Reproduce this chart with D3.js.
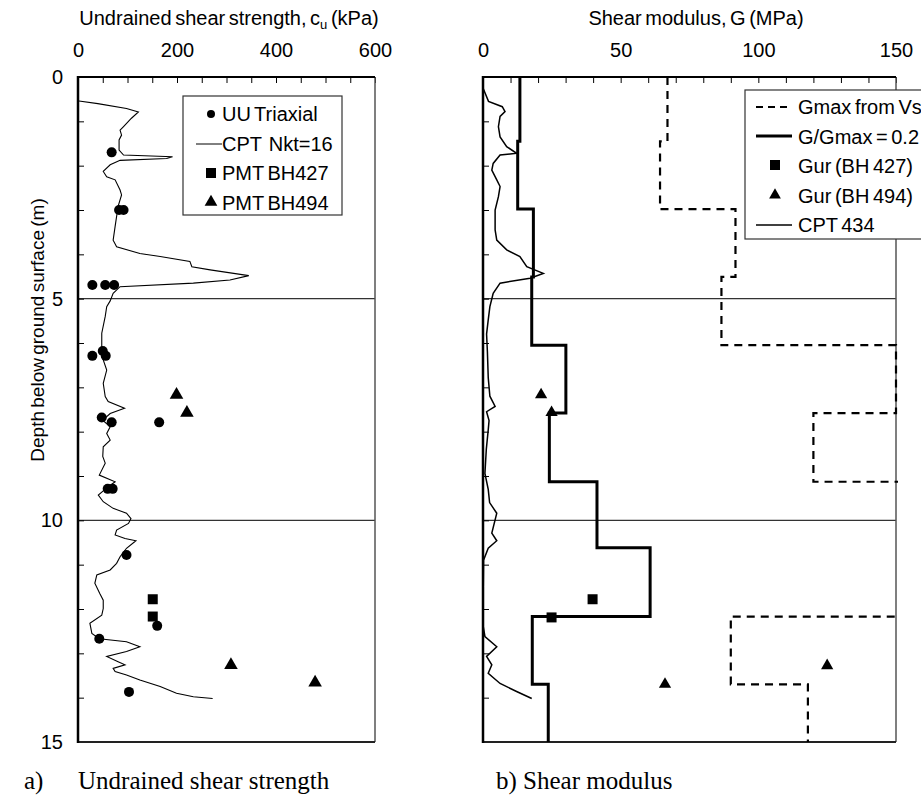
<!DOCTYPE html>
<html>
<head>
<meta charset="utf-8">
<script src="https://cdn.jsdelivr.net/npm/d3@7"></script>
<style>
  body { margin: 0; background: #fff; }
  text { font-family: "Liberation Sans", Arial, sans-serif; fill: #000; white-space: pre; }
</style>
</head>
<body>
<svg id="chart" width="921" height="800"></svg>
<script>
// ---- data ----
var depthTicks = [0, 5, 10, 15];
var cuTicks = [0, 200, 400, 600];
var gTicks = [0, 50, 100, 150];
var depthLines = [5, 10];

// [cu (kPa), depth (m)]
var uuTriaxial = [[68,1.70],[83,3.0],[92,3.0],[29,4.69],[55,4.69],[73,4.69],[29,6.29],[50,6.18],[56,6.29],
  [48,7.68],[68,7.79],[164,7.79],[60,9.29],[70,9.29],[98,10.78],[160,12.38],[43,12.67],[103,13.87]];
var pmtBH427 = [[151,11.78],[151,12.17]];
var pmtBH494 = [[199,7.19],[220,7.6],[309,13.29],[479,13.68]];
var cptNkt16 = [[2,0.54],[40,0.6],[98,0.71],[122,0.79],[108,0.93],[92,1.12],[85,1.2],[88,1.31],[83,1.42],
  [83,1.65],[92,1.76],[191,1.8],[179,1.84],[85,1.88],[65,1.98],[51,2.13],[58,2.25],[75,2.32],[85,2.55],
  [88,2.66],[81,2.92],[75,3.37],[71,3.68],[78,3.83],[125,3.98],[166,4.05],[226,4.16],[230,4.28],[267,4.35],
  [345,4.48],[307,4.58],[233,4.65],[85,4.73],[71,4.88],[65,5.05],[58,5.18],[55,5.4],[48,5.78],[48,6.08],
  [51,6.38],[58,6.61],[51,6.91],[55,7.21],[61,7.32],[94,7.47],[65,7.59],[50,7.74],[65,7.89],[58,8.04],
  [65,8.19],[51,8.34],[50,8.56],[55,8.71],[43,8.98],[75,9.13],[60,9.25],[41,9.43],[51,9.58],[71,9.73],
  [98,9.84],[107,9.96],[102,10.07],[78,10.22],[75,10.33],[95,10.41],[117,10.46],[98,10.63],[85,10.82],
  [78,10.97],[65,11.12],[38,11.23],[34,11.42],[44,11.65],[51,11.8],[51,11.99],[48,12.14],[24,12.32],
  [28,12.55],[43,12.67],[98,12.74],[125,12.85],[98,12.96],[58,13.07],[81,13.19],[95,13.26],[71,13.34],
  [75,13.41],[98,13.49],[125,13.6],[166,13.75],[199,13.9],[233,13.98],[272,14.02]];

// [G (MPa), depth (m)]
var layerTops = [0, 1.45, 2.98, 4.51, 6.05, 7.58, 9.13, 10.62, 12.17, 13.7];
var layerBottom = 15;
var gmaxFromVs = [67, 64.3, 91.7, 86.6, 150, 120, 207, 303, 90, 118];
var gRatio02 = [13.4, 12.6, 18.3, 17.7, 30.1, 24.1, 41.4, 60.7, 17.9, 23.7];
var gurBH427 = [[39.8,11.78],[24.9,12.19]];
var gurBH494 = [[21.1,7.19],[24.9,7.59],[66.1,13.72],[125,13.3]];
var cpt434 = [[0,0.25],[2,0.55],[7,0.67],[8,0.78],[6.2,0.89],[5.6,1.12],[6.2,1.35],[8.6,1.57],[12.2,1.72],
  [6.2,1.76],[3.7,1.95],[3.2,2.1],[5,2.32],[6.2,2.47],[5.6,2.7],[4.4,3.0],[4.4,3.45],[5,3.68],[8.6,3.9],
  [13.4,4.05],[15.9,4.28],[21.9,4.43],[17.1,4.54],[6.2,4.65],[3.7,4.88],[2.5,5.18],[1.9,5.48],[1.3,5.8],
  [1.6,6.2],[1.9,6.78],[2.5,7.2],[4.4,7.43],[1.3,7.55],[2.2,7.75],[1.9,7.96],[1.2,8.4],[0.7,8.94],
  [1.9,9.3],[2.4,9.6],[5,9.84],[3.2,10.29],[5,10.46],[1.9,10.63],[0.2,10.9],[0.1,11.5],[0.1,12.4],
  [0.7,12.62],[5,12.85],[1.3,13.07],[3.2,13.26],[1.9,13.45],[6.2,13.68],[12.2,13.86],[17.7,14.02]];

// ---- layout ----
var svg = d3.select("#chart");
svg.append("rect").attr("width", 921).attr("height", 800).attr("fill", "#fff");

var plotTop = 77, plotBottom = 742;
var y = d3.scaleLinear().domain([0, 15]).range([plotTop, plotBottom]);
var xL = d3.scaleLinear().domain([0, 600]).range([78, 375]);
var xR = d3.scaleLinear().domain([0, 150]).range([483, 896]);

function triangle(g, pts, x, size) {
  g.selectAll(null).data(pts).enter().append("path")
    .attr("d", d3.symbol().type(d3.symbolTriangle).size(size))
    .attr("transform", function(d){ return "translate(" + x(d[0]) + "," + (y(d[1]) - 1) + ")"; })
    .attr("fill", "#000");
}
function squares(g, pts, x, s) {
  g.selectAll(null).data(pts).enter().append("rect")
    .attr("x", function(d){ return x(d[0]) - s/2; })
    .attr("y", function(d){ return y(d[1]) - s/2; })
    .attr("width", s).attr("height", s).attr("fill", "#000");
}

function panel(x, minorStep, labels, showDepthLabels, clipId) {
  var x0 = x.range()[0], x1 = x.range()[1];
  var g = svg.append("g");

  // horizontal reference lines
  g.selectAll(null).data(depthLines).enter().append("line")
    .attr("x1", x0).attr("x2", x1)
    .attr("y1", function(d){ return y(d); }).attr("y2", function(d){ return y(d); })
    .attr("stroke", "#333").attr("stroke-width", 1.2);

  // top axis: minor ticks inward, labels on majors
  var minors = d3.range(0, x.domain()[1] + 0.001, minorStep);
  var ax = d3.axisTop(x).tickValues(minors).tickSizeInner(-6).tickSizeOuter(0).tickPadding(20)
    .tickFormat(function(d){ return labels.indexOf(d) >= 0 ? d : ""; });
  var ga = g.append("g").attr("transform", "translate(0," + plotTop + ")").call(ax);
  ga.select(".domain").remove();
  ga.selectAll("text").style("font-size", "20px").attr("font-family", null);

  var ay = d3.axisLeft(y).tickValues(d3.range(0, 16, 1)).tickSizeInner(-6).tickSizeOuter(0).tickPadding(15)
    .tickFormat(function(d){ return (showDepthLabels && depthTicks.indexOf(d) >= 0) ? d : ""; });
  var gy = g.append("g").attr("transform", "translate(" + x0 + ",0)").call(ay);
  gy.select(".domain").remove();
  gy.selectAll("text").style("font-size", "20px").attr("font-family", null);

  // frame
  g.append("line").attr("x1", x1).attr("x2", x1).attr("y1", plotTop).attr("y2", plotBottom)
    .attr("stroke", "#555").attr("stroke-width", 1.5);
  g.append("line").attr("x1", x0).attr("x2", x1).attr("y1", plotBottom).attr("y2", plotBottom)
    .attr("stroke", "#222").attr("stroke-width", 2);
  g.append("line").attr("x1", x0).attr("x2", x1).attr("y1", plotTop).attr("y2", plotTop)
    .attr("stroke", "#000").attr("stroke-width", 2);
  g.append("line").attr("x1", x0).attr("x2", x0).attr("y1", plotTop - 1).attr("y2", plotBottom + 1)
    .attr("stroke", "#000").attr("stroke-width", 2.5);

  svg.append("clipPath").attr("id", clipId).append("rect")
    .attr("x", x0 - 2).attr("y", plotTop - 2).attr("width", x1 - x0 + 4).attr("height", plotBottom - plotTop + 4);

  return g;
}

// ---------- panel a ----------
var gA = panel(xL, 50, cuTicks, true, "clipA");
var lineA = d3.line().x(function(d){ return xL(d[0]); }).y(function(d){ return y(d[1]); });
gA.append("path").datum(cptNkt16).attr("d", lineA)
  .attr("fill", "none").attr("stroke", "#000").attr("stroke-width", 1.1);
gA.selectAll(null).data(uuTriaxial).enter().append("circle")
  .attr("cx", function(d){ return xL(d[0]); }).attr("cy", function(d){ return y(d[1]); })
  .attr("r", 5).attr("fill", "#000");
squares(gA, pmtBH427, xL, 10);
triangle(gA, pmtBH494, xL, 80);

// title with subscript
var tA = svg.append("text").attr("x", 229).attr("y", 25).attr("text-anchor", "middle")
  .style("font-size", "20px").style("word-spacing", "-2px");
tA.append("tspan").text("Undrained shear strength, c");
tA.append("tspan").text("u").attr("dy", 4).style("font-size", "13px");
tA.append("tspan").text(" (kPa)").attr("dy", -4);

svg.append("text").attr("transform", "translate(44,330) rotate(-90)").attr("text-anchor", "middle")
  .style("font-size", "19px").style("word-spacing", "-2px").text("Depth below ground surface (m)");

// legend a
var legA = svg.append("g");
legA.append("rect").attr("x", 183).attr("y", 96).attr("width", 159).attr("height", 119)
  .attr("fill", "#fff").attr("stroke", "#333").attr("stroke-width", 1.2);
var legAItems = ["UU Triaxial", "CPT  Nkt=16", "PMT BH427", "PMT BH494"];
legA.selectAll(null).data(legAItems).enter().append("text")
  .attr("x", 222).attr("y", function(d, i){ return 114 + i * 29.7 + 7; })
  .style("font-size", "20px").style("word-spacing", "-2px").text(function(d){ return d; });
legA.append("circle").attr("cx", 211).attr("cy", 114).attr("r", 4).attr("fill", "#000");
legA.append("line").attr("x1", 196).attr("x2", 222).attr("y1", 144).attr("y2", 144)
  .attr("stroke", "#000").attr("stroke-width", 1);
legA.append("rect").attr("x", 206).attr("y", 168).attr("width", 10).attr("height", 10).attr("fill", "#000");
legA.append("path").attr("d", d3.symbol().type(d3.symbolTriangle).size(70))
  .attr("transform", "translate(211,202)").attr("fill", "#000");

// ---------- panel b ----------
var gB = panel(xR, 10, gTicks, false, "clipB");
var lineB = d3.line().x(function(d){ return xR(d[0]); }).y(function(d){ return y(d[1]); });
function steps(vals) {
  var pts = [];
  vals.forEach(function(v, i){
    var b = i < layerTops.length - 1 ? layerTops[i + 1] : layerBottom;
    pts.push([v, layerTops[i]]); pts.push([v, b]);
  });
  return pts;
}
var clipG = gB.append("g").attr("clip-path", "url(#clipB)");
clipG.append("path").datum(steps(gmaxFromVs)).attr("d", lineB)
  .attr("fill", "none").attr("stroke", "#000").attr("stroke-width", 2.2).attr("stroke-dasharray", "8,6");
clipG.append("path").datum(steps(gRatio02)).attr("d", lineB)
  .attr("fill", "none").attr("stroke", "#000").attr("stroke-width", 3);
clipG.append("path").datum(cpt434).attr("d", lineB)
  .attr("fill", "none").attr("stroke", "#000").attr("stroke-width", 1.5);
squares(gB, gurBH427, xR, 10);
triangle(gB, gurBH494, xR, 65);

svg.append("text").attr("x", 696).attr("y", 25).attr("text-anchor", "middle")
  .style("font-size", "20px").style("word-spacing", "-2px").text("Shear modulus, G (MPa)");

// legend b
var legB = svg.append("g");
legB.append("rect").attr("x", 745).attr("y", 90).attr("width", 200).attr("height", 149)
  .attr("fill", "#fff").attr("stroke", "#333").attr("stroke-width", 1.2);
var legBItems = ["Gmax from Vs", "G/Gmax = 0.2", "Gur (BH 427)", "Gur (BH 494)", "CPT 434"];
legB.selectAll(null).data(legBItems).enter().append("text")
  .attr("x", 798).attr("y", function(d, i){ return 107 + i * 29.5 + 7; })
  .style("font-size", "20px").style("word-spacing", "-2px").text(function(d){ return d; });
legB.append("line").attr("x1", 756).attr("x2", 792).attr("y1", 107).attr("y2", 107)
  .attr("stroke", "#000").attr("stroke-width", 2).attr("stroke-dasharray", "7,5");
legB.append("line").attr("x1", 756).attr("x2", 792).attr("y1", 136).attr("y2", 136)
  .attr("stroke", "#000").attr("stroke-width", 3);
legB.append("rect").attr("x", 770).attr("y", 160).attr("width", 10).attr("height", 10).attr("fill", "#000");
legB.append("path").attr("d", d3.symbol().type(d3.symbolTriangle).size(60))
  .attr("transform", "translate(775,195)").attr("fill", "#000");
legB.append("line").attr("x1", 756).attr("x2", 792).attr("y1", 225).attr("y2", 225)
  .attr("stroke", "#000").attr("stroke-width", 1.5);

// captions
svg.append("text").attr("x", 24).attr("y", 789).style("font-family", "'Liberation Serif', serif")
  .style("font-size", "25px").text("a)");
svg.append("text").attr("x", 78).attr("y", 789).style("font-family", "'Liberation Serif', serif")
  .style("font-size", "25px").text("Undrained shear strength");
svg.append("text").attr("x", 496).attr("y", 789).style("font-family", "'Liberation Serif', serif")
  .style("font-size", "25px").text("b) Shear modulus");
</script>
</body>
</html>
